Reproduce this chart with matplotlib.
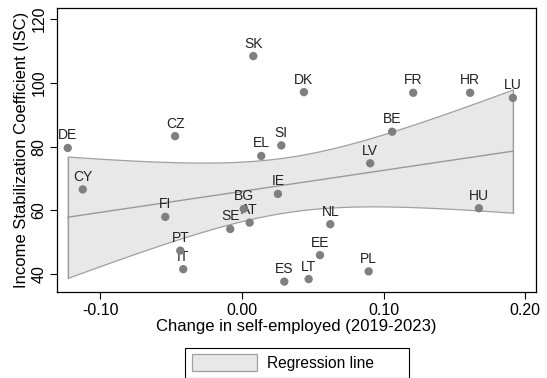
import numpy as np
import matplotlib
matplotlib.use('Agg')
import matplotlib.pyplot as plt
from matplotlib.patches import Patch

plt.rcParams['font.family'] = ['Liberation Sans', 'DejaVu Sans']

# country codes, change in self-employed (x), ISC (y)
countries = ['DE', 'CZ', 'SK', 'DK', 'SI', 'EL', 'FR', 'HR', 'LU', 'BE', 'CY', 'FI', 'PT',
             'IT', 'LV', 'IE', 'BG', 'AT', 'SE', 'NL', 'EE', 'LT', 'ES', 'PL', 'HU']
self_emp = [-0.1231, -0.0473, 0.0080, 0.0438, 0.0278, 0.0136, 0.1210, 0.1612, 0.1914, 0.1061,
            -0.1125, -0.0542, -0.0436, -0.0415, 0.0906, 0.0254, 0.0012, 0.0054, -0.0083, 0.0624,
            0.0551, 0.0471, 0.0299, 0.0895, 0.1674]
isc = [79.6, 83.3, 108.4, 97.1, 80.4, 77.1, 96.9, 96.9, 95.3, 84.7,
       66.6, 58.0, 47.4, 41.6, 74.8, 65.2, 60.5, 56.2, 54.2, 55.7,
       46.0, 38.5, 37.7, 40.9, 60.7]

x = np.array(self_emp)
y = np.array(isc)

# linear fit with 95% CI of the mean prediction
n = len(x)
b, a = np.polyfit(x, y, 1)
resid = y - (a + b * x)
s = np.sqrt((resid ** 2).sum() / (n - 2))
sxx = ((x - x.mean()) ** 2).sum()
t = 2.069  # t(0.975, 23)
xs = np.linspace(x.min(), x.max(), 100)
fit = a + b * xs
half = t * s * np.sqrt(1 / n + (xs - x.mean()) ** 2 / sxx)

fig = plt.figure(figsize=(5.47, 3.78), dpi=100)
ax = fig.add_axes([0.105, 0.228, 0.874, 0.751])

ax.fill_between(xs, fit - half, fit + half, facecolor='#e8e8e8', edgecolor='#a0a0a0', linewidth=0.9, zorder=1)
ax.plot([xs[0], xs[0]], [fit[0] - half[0], fit[0] + half[0]], color='#a0a0a0', lw=0.9, zorder=1)
ax.plot([xs[-1], xs[-1]], [fit[-1] - half[-1], fit[-1] + half[-1]], color='#a0a0a0', lw=0.9, zorder=1)
ax.plot(xs, fit, color='#999999', lw=1.0, zorder=2)

ax.scatter(x, y, s=36, color='#7f7f7f', zorder=3, edgecolors='none')
for c, xi, yi in zip(countries, x, y):
    ax.annotate(c, (xi, yi), xytext=(0, 4), textcoords='offset points',
                ha='center', va='bottom', fontsize=10, color='#222222', zorder=2)

ax.set_xlim(-0.1304, 0.2074)
ax.set_ylim(34.5, 123.5)
ax.set_xticks([-0.1, 0.0, 0.1, 0.2])
ax.set_xticklabels(['-0.10', '0.00', '0.10', '0.20'])
ax.set_yticks([40, 60, 80, 100, 120])
ax.tick_params(axis='both', labelsize=11.5, length=5, width=0.8, direction='out', pad=3)
plt.setp(ax.get_yticklabels(), rotation=90, va='center')
for sp in ax.spines.values():
    sp.set_linewidth(0.9)

ax.set_xlabel('Change in self-employed (2019-2023)', fontsize=12, labelpad=1)
ax.set_ylabel('Income Stabilization Coefficient (ISC)', fontsize=12, labelpad=2)

# legend box spanning the same width as the original
handle = Patch(facecolor='#e8e8e8', edgecolor='#a0a0a0', linewidth=0.9)
leg = fig.legend([handle], ['Regression line'], loc='upper left',
                 bbox_to_anchor=(185 / 547, 0.0, 224 / 547, 1 - 347.5 / 378), mode='expand',
                 fontsize=11.2, fancybox=False,
                 edgecolor='black', framealpha=1, handlelength=4.2, handleheight=1.3,
                 borderpad=0.45, handletextpad=0.6, borderaxespad=0)
leg.get_frame().set_linewidth(0.8)

fig.savefig('out.png', dpi=100)
